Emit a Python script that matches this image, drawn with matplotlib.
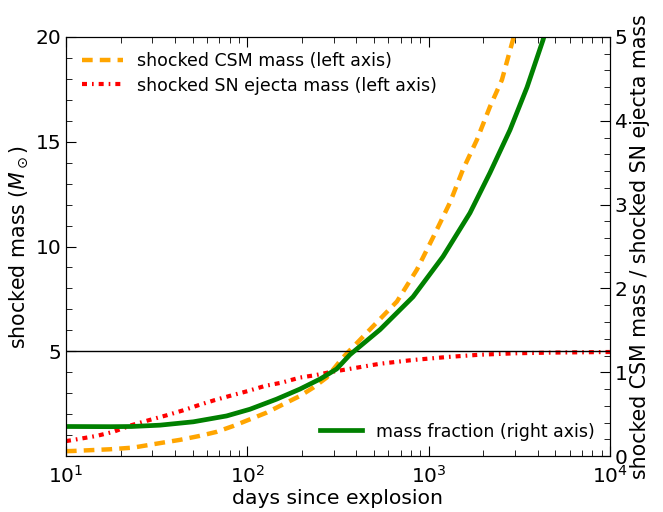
import matplotlib
matplotlib.use('Agg')
import matplotlib.pyplot as plt
from matplotlib.ticker import MultipleLocator

# shocked CSM mass (left axis, Msun)
csm_days = [10, 11, 17.5, 23.5, 34.4, 42.6, 54.8, 67.7, 83.7, 103.5, 128, 165, 195, 231, 274,
            337, 493, 669, 862, 1057, 1312, 1546, 1848, 2179, 2537, 2917, 3300]
csm_mass = [0.24, 0.25, 0.33, 0.41, 0.65, 0.78, 0.97, 1.16, 1.44, 1.76, 2.08, 2.56, 2.87, 3.27, 3.75,
            4.71, 6.19, 7.38, 8.90, 10.43, 12.10, 13.67, 15.10, 16.67, 17.95, 19.86, 21.5]

# shocked SN ejecta mass (left axis, Msun)
ej_days = [10, 10.7, 14.8, 18.2, 23, 29, 35.9, 44.4, 53.7, 66.4, 82, 101, 125, 155, 195, 236, 286,
           353, 540, 822, 1260, 1919, 3060, 4670, 10000]
ej_mass = [0.72, 0.76, 0.97, 1.16, 1.48, 1.73, 1.95, 2.19, 2.43, 2.68, 2.90, 3.11, 3.35, 3.51, 3.75,
           3.86, 4.01, 4.14, 4.41, 4.59, 4.73, 4.84, 4.91, 4.94, 4.97]

# mass fraction CSM / ejecta (right axis)
frac_days = [10, 17.5, 23, 33, 50.4, 76.9, 103.5, 145, 195, 252, 311, 368, 540, 820, 1200, 1690,
             2180, 2810, 3490, 4270, 4600]
frac = [0.354, 0.352, 0.354, 0.37, 0.41, 0.48, 0.56, 0.68, 0.80, 0.92, 1.04, 1.21, 1.51, 1.90, 2.38,
        2.90, 3.38, 3.89, 4.40, 4.96, 5.2]

plt.rcParams['font.family'] = 'DejaVu Sans'
plt.rcParams['xtick.direction'] = 'in'
plt.rcParams['ytick.direction'] = 'in'

fig = plt.figure(figsize=(6.63, 5.12), dpi=100)
ax = fig.add_axes([0.0995, 0.109, 0.8205, 0.819])
ax2 = ax.twinx()

l1, = ax.plot(csm_days, csm_mass, color='orange', lw=3.2, linestyle=(0, (2.4, 1.6)),
              label='shocked CSM mass (left axis)')
l2, = ax.plot(ej_days, ej_mass, color='red', lw=3.0, linestyle=(0, (1.2, 1.2, 0.4, 1.2)),
              label='shocked SN ejecta mass (left axis)')
ax.axhline(5, color='black', lw=1)
l3, = ax2.plot(frac_days, frac, color='green', lw=3.4, label='mass fraction (right axis)')

ax.set_xscale('log')
ax.set_xlim(10, 1e4)
ax.set_ylim(0, 20)
ax2.set_ylim(0, 5)
ax.set_yticks([5, 10, 15, 20])
ax.yaxis.set_minor_locator(MultipleLocator(1))
ax2.set_yticks([0, 1, 2, 3, 4, 5])
ax2.yaxis.set_minor_locator(MultipleLocator(0.2))

ax.tick_params(axis='both', which='major', labelsize=14.5, length=7, top=True)
ax.tick_params(axis='both', which='minor', length=4, top=True)
ax.tick_params(axis='x', which='major', pad=6)
ax2.tick_params(axis='y', which='major', labelsize=14.5, length=7)
ax2.tick_params(axis='y', which='minor', length=4)

ax.set_xlabel('days since explosion', fontsize=14.7, labelpad=2)
ax.set_ylabel(r'shocked mass ($M_\odot$)', fontsize=14.8, labelpad=4)
ax2.set_ylabel('shocked CSM mass / shocked SN ejecta mass', fontsize=14.8, labelpad=2)

ax.legend(handles=[l1, l2], loc='upper left', frameon=False, fontsize=12.5,
          handlelength=2.4, borderaxespad=0.5, labelspacing=0.35)
ax2.legend(handles=[l3], loc='lower right', frameon=False, fontsize=12.5,
           handlelength=2.4, borderaxespad=0.5)

fig.savefig('out.png', dpi=100)
